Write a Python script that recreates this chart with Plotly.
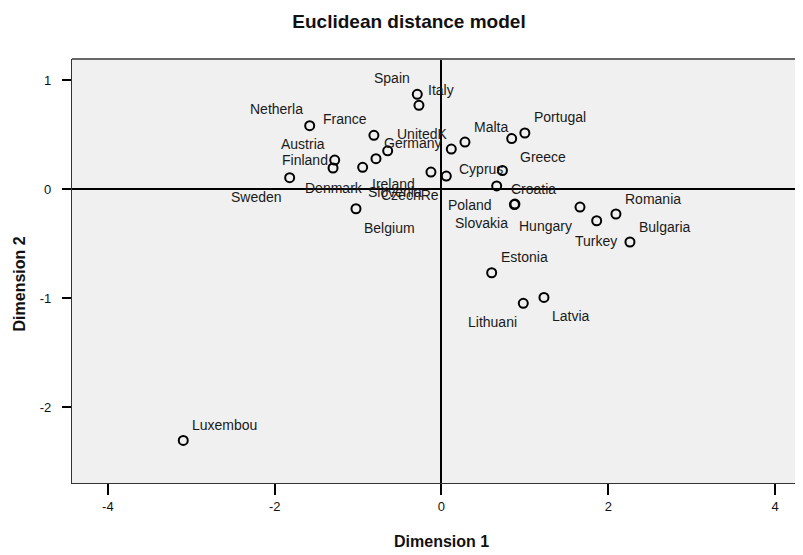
import plotly.graph_objects as go

# ---- data ----
countries = ["Spain", "Italy", "Netherla", "France", "Austria", "Finland", "Sweden",
             "Denmark", "Ireland", "Germany", "Belgium", "Slovenia", "CzechRe", "UnitedK",
             "Malta", "Greece", "Portugal", "Cyprus", "Croatia", "Poland", "Slovakia",
             "Hungary", "Turkey", "Romania", "Bulgaria", "Estonia", "Lithuani", "Latvia",
             "Luxembou"]
dim1 = [-0.29, -0.27, -1.58, -0.81, -1.28, -1.30, -1.82,
        -0.945, -0.785, -0.645, -1.025, -0.126, 0.058, 0.118,
        0.282, 0.842, 1.00, 0.731, 0.662, 0.881, 0.875,
        1.661, 1.861, 2.092, 2.26, 0.602, 0.981, 1.229,
        -3.096]
dim2 = [0.869, 0.768, 0.581, 0.493, 0.266, 0.193, 0.104,
        0.199, 0.278, 0.351, -0.181, 0.156, 0.119, 0.367,
        0.431, 0.463, 0.514, 0.170, 0.028, -0.138, -0.142,
        -0.165, -0.291, -0.229, -0.486, -0.768, -1.049, -0.994,
        -2.306]
x_ticks = [-4, -2, 0, 2, 4]
y_ticks = [1, 0, -1, -2]

# ---- label placement (pixel offsets from each point: dx right, dy up) ----
label_offsets = {
    "Spain": (-25.6, 16), "Italy": (22, 15.3), "Netherla": (-32.7, 16.7),
    "France": (-29.3, 16.3), "Austria": (-32.2, 16.3), "Finland": (-28, 8),
    "Sweden": (-33, -19), "Denmark": (-28.2, -21), "Ireland": (17.3, -25.3),
    "Germany": (25.3, 7.4), "Belgium": (34, -19.3), "Slovenia": (-36.3, -19.7),
    "CzechRe": (-36, -19), "UnitedK": (-29.6, 15), "Malta": (25.7, 15.3),
    "Greece": (31.3, -18.2), "Portugal": (35.2, 15.7), "Cyprus": (-21.2, 2),
    "Croatia": (36.6, -3.3), "Poland": (-45, -1), "Slovakia": (-33.3, -18.7),
    "Hungary": (-34.3, -19), "Turkey": (-0.4, -20.3), "Romania": (37.3, 15),
    "Bulgaria": (34.8, 15.3), "Estonia": (32.6, 16), "Lithuani": (-30.5, -18.4),
    "Latvia": (27, -18.7), "Luxembou": (41.4, 15.3),
}

FONT = "Liberation Sans, Arial, sans-serif"
PAGE_OFF = 8  # default page body margin
W, H = 803 - PAGE_OFF, 555 - PAGE_OFF

fig = go.Figure()
fig.add_trace(go.Scatter(
    x=dim1, y=dim2, mode="markers",
    marker=dict(symbol="circle-open", size=9, color="black", line=dict(width=2, color="black")),
    hoverinfo="text", text=countries, showlegend=False,
))

annotations = []
for name, xv, yv in zip(countries, dim1, dim2):
    dx, dy = label_offsets[name]
    annotations.append(dict(
        x=xv, y=yv, xref="x", yref="y", text=name, showarrow=False,
        xanchor="center", yanchor="middle", xshift=dx, yshift=dy,
        font=dict(family=FONT, size=14, color="#1a1a1a"),
    ))

# axis titles
annotations.append(dict(
    x=0, y=-0.1368, xref="x", yref="paper", text="<b>Dimension 1</b>", showarrow=False,
    xanchor="center", yanchor="middle", font=dict(family=FONT, size=16, color="#111"),
))
annotations.append(dict(
    x=-0.0721, y=0.469, xref="paper", yref="paper", text="<b>Dimension 2</b>", showarrow=False,
    xanchor="center", yanchor="middle", textangle=-90, font=dict(family=FONT, size=16, color="#111"),
))

fig.update_layout(
    width=W, height=H, autosize=False,
    margin=dict(l=64, r=0, t=51, b=72),
    paper_bgcolor="white", plot_bgcolor="#f0f0f0",
    title=dict(text="<b>Euclidean distance model</b>", x=(409 - PAGE_OFF) / W, xanchor="center",
               y=1 - (21 - PAGE_OFF) / H, yanchor="middle", font=dict(family=FONT, size=19, color="#111")),
    annotations=annotations,
    shapes=[dict(type="line", xref="paper", yref="paper", x0=0, x1=1, y0=1, y1=1,
                 line=dict(color="#666", width=2))],
)
fig.update_xaxes(
    range=[-4.430, 4.335], tickvals=x_ticks, ticktext=[str(v) for v in x_ticks],
    showgrid=False, zeroline=True, zerolinecolor="black", zerolinewidth=1.6,
    showline=True, linecolor="#333", linewidth=1.3,
    ticks="outside", ticklen=11, tickwidth=1.5, tickcolor="black",
    tickfont=dict(family=FONT, size=13, color="#111"),
)
fig.update_yaxes(
    range=[-2.697, 1.193], tickvals=y_ticks, ticktext=[str(v) for v in y_ticks],
    showgrid=False, zeroline=True, zerolinecolor="black", zerolinewidth=1.6,
    showline=True, linecolor="#333", linewidth=1.3,
    ticks="outside", ticklen=9, tickwidth=1.5, tickcolor="black",
    ticklabelstandoff=8,
    tickfont=dict(family=FONT, size=13, color="#111"),
)

fig.write_html("out.html")
